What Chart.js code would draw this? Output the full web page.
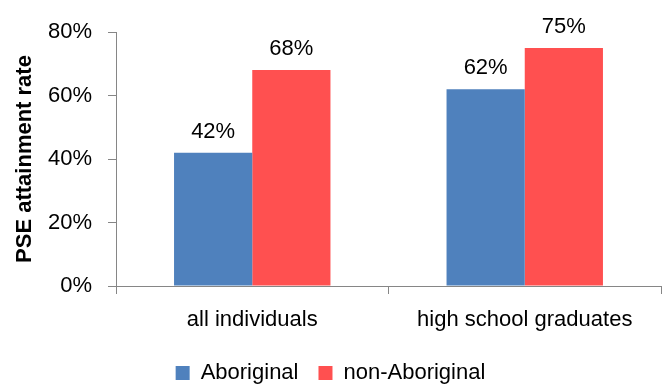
<!DOCTYPE html>
<html>
<head>
<meta charset="utf-8">
<script src="https://cdn.jsdelivr.net/npm/chart.js@4.4.0/dist/chart.umd.min.js"></script>
<style>
  html, body { margin: 0; padding: 0; background: #fff; }
  #wrap { width: 664px; height: 384px; }
</style>
</head>
<body>
<div id="wrap"><canvas id="chart" width="664" height="384"></canvas></div>
<script>
// Chart data
const categories = ['all individuals', 'high school graduates'];
const aboriginal = [42, 62];
const nonAboriginal = [68, 75];
const yTicks = [0, 20, 40, 60, 80];

const FONT = "'Liberation Sans', Arial, sans-serif";
const AXIS_GRAY = '#868686';

// Draw value labels above each bar
const valueLabels = {
    id: 'valueLabels',
    afterDatasetsDraw(chart) {
        const ctx = chart.ctx;
        ctx.save();
        ctx.font = '22px ' + FONT;
        ctx.fillStyle = '#000';
        ctx.textAlign = 'center';
        ctx.textBaseline = 'alphabetic';
        chart.data.datasets.forEach((ds, i) => {
            chart.getDatasetMeta(i).data.forEach((bar, j) => {
                ctx.fillText(ds.data[j] + '%', bar.x, bar.y - 15);
            });
        });
        ctx.restore();
    }
};

new Chart(document.getElementById('chart'), {
    type: 'bar',
    data: {
        labels: categories,
        datasets: [{
            label: 'Aboriginal',
            data: aboriginal,
            backgroundColor: '#4F81BD',
            categoryPercentage: 0.574,
            barPercentage: 1
        }, {
            label: 'non-Aboriginal',
            data: nonAboriginal,
            backgroundColor: '#FF5050',
            categoryPercentage: 0.574,
            barPercentage: 1
        }]
    },
    options: {
        responsive: false,
        animation: false,
        layout: { padding: { top: 32, right: 3, left: 0, bottom: -10 } },
        plugins: {
            legend: {
                position: 'bottom',
                labels: {
                    boxWidth: 14,
                    boxHeight: 14,
                    padding: 20,
                    color: '#000',
                    font: { family: FONT, size: 22 }
                }
            },
            tooltip: { enabled: false }
        },
        scales: {
            x: {
                grid: {
                    drawOnChartArea: false,
                    drawTicks: true,
                    tickLength: 8,
                    color: AXIS_GRAY,
                    offset: true
                },
                border: { color: AXIS_GRAY, width: 1 },
                ticks: {
                    color: '#000',
                    padding: 13,
                    font: { family: FONT, size: 22 }
                },
                afterFit(scale) { scale.height = 56; }
            },
            y: {
                min: 0,
                max: 80,
                afterBuildTicks(scale) {
                    scale.ticks = yTicks.map(v => ({ value: v }));
                },
                grid: {
                    drawOnChartArea: false,
                    drawTicks: true,
                    tickLength: 8,
                    color: AXIS_GRAY
                },
                border: { color: AXIS_GRAY, width: 1 },
                ticks: {
                    color: '#000',
                    padding: 16,
                    font: { family: FONT, size: 22 },
                    callback: v => v + '%'
                },
                title: {
                    display: true,
                    text: 'PSE attainment rate',
                    color: '#000',
                    font: { family: FONT, size: 22, weight: 'bold' },
                    padding: { top: 12, bottom: 0 }
                },
                afterFit(scale) { scale.width = 116; }
            }
        }
    },
    plugins: [valueLabels]
});
</script>
</body>
</html>
